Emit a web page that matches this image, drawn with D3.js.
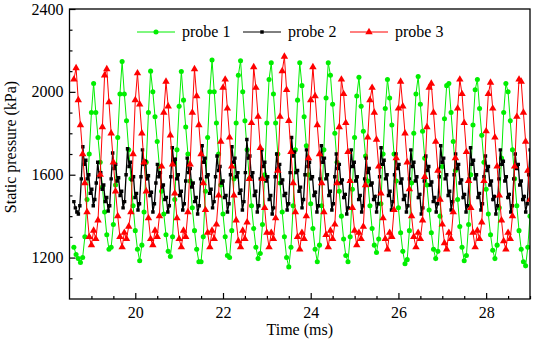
<!DOCTYPE html>
<html>
<head>
<meta charset="utf-8">
<script src="https://cdn.jsdelivr.net/npm/d3@7"></script>
<style>
  body { margin: 0; background: #fff; }
  text { font-family: "Liberation Serif", "Times New Roman", serif; }
</style>
</head>
<body>
<script>
const t0 = 18.6, dt = 0.05;     // probe 1 and probe 3
const tb0 = 18.6, dtb = 0.034;  // probe 2 is sampled denser

const probe1 = [
  1250,1215,1195,1176,1200,1300,1480,1700,1900,2040,
  1900,1780,1660,1540,1420,1310,1240,1250,1360,1550,
  1780,1990,2146,1990,1860,1720,1580,1450,1330,1240,
  1185,1260,1420,1660,1900,2100,2000,1880,1760,1640,
  1520,1410,1310,1230,1205,1300,1480,1720,1930,2098,
  1960,1830,1700,1570,1440,1330,1240,1180,1180,1300,
  1520,1780,2000,2154,2000,1850,1700,1550,1410,1300,
  1210,1200,1330,1580,1850,2080,2150,2000,1860,1720,
  1580,1450,1340,1250,1195,1220,1360,1600,1850,2060,
  2140,1990,1850,1700,1560,1420,1300,1200,1155,1250,
  1450,1720,1960,2140,2030,1880,1740,1600,1460,1340,
  1240,1180,1260,1450,1720,1970,2140,2080,1940,1800,
  1660,1520,1400,1290,1210,1180,1300,1530,1780,1980,
  2070,1930,1810,1690,1570,1450,1340,1260,1224,1290,
  1460,1700,1920,2060,1970,1840,1700,1570,1440,1320,
  1230,1170,1190,1330,1560,1800,1990,2074,1940,1810,
  1680,1550,1430,1320,1240,1195,1230,1400,1640,1870,
  2030,2040,1900,1760,1620,1480,1350,1250,1185,1210,
  1360,1600,1840,2010,2060,1920,1790,1660,1530,1410,
  1310,1235,1195,1260,1440,1680,1900,2040,2000,1860,
  1720,1580,1450,1330,1240,1180,1160,1250,1400
];

const probe2 = [
  1470,1440,1420,1410,1450,1580,
  1735,1650,1670,1580,1600,1510,1530,1450,1480,1560,
  1660,1590,1610,1530,1550,1470,1490,1425,1450,1580,
  1705,1630,1650,1570,1585,1500,1520,1440,1470,1600,
  1725,1640,1660,1575,1590,1490,1510,1430,1460,1590,
  1720,1650,1665,1580,1595,1500,1515,1420,1460,1560,
  1650,1590,1610,1540,1550,1480,1490,1420,1450,1590,
  1730,1660,1675,1580,1600,1500,1520,1430,1460,1570,
  1680,1610,1630,1540,1560,1470,1490,1410,1450,1580,
  1740,1660,1680,1590,1600,1510,1530,1440,1470,1590,
  1690,1620,1640,1560,1570,1490,1500,1420,1460,1600,
  1735,1660,1680,1590,1610,1510,1525,1430,1470,1610,
  1770,1680,1690,1590,1610,1500,1520,1420,1450,1580,
  1720,1640,1660,1570,1590,1480,1500,1410,1440,1590,
  1700,1630,1650,1560,1575,1500,1510,1430,1460,1610,
  1780,1690,1710,1610,1620,1520,1540,1440,1480,1600,
  1720,1640,1660,1580,1590,1500,1515,1420,1450,1580,
  1740,1660,1680,1580,1600,1500,1520,1430,1460,1590,
  1700,1630,1650,1560,1575,1490,1505,1410,1440,1570,
  1720,1640,1660,1570,1590,1480,1500,1420,1450,1580,
  1680,1610,1630,1550,1560,1480,1495,1420,1460,1590,
  1730,1650,1670,1580,1600,1500,1520,1430,1470,1600,
  1700,1630,1650,1560,1580,1480,1500,1420,1450,1580,
  1720,1640,1660,1570,1590,1490,1505,1410,1440,1570,
  1690,1620,1640,1550,1565,1470,1490,1420,1460,1590,
  1740,1660,1680,1580,1600,1500,1520,1430,1470,1600,
  1700,1630,1650,1560,1575,1490,1505,1420,1450,1580,
  1730,1650,1670,1580,1600,1490,1510,1430,1460,1590,
  1690,1620,1640,1550,1570,1480,1495,1410,1450,1580,
  1720,1650,1665,1570,1590,1490,1505,1420,1450,1580,
  1700,1630,1650,1550,1570,1480,1495,1420,1460,1600,
  1720
];

const probe3 = [
  2060,2115,1960,1840,1700,1560,1420,1300,1260,1330,
  1290,1380,1600,1830,2080,2110,1950,1800,1660,1520,
  1400,1300,1250,1320,1290,1350,1420,1700,1960,2090,
  1940,1800,1660,1520,1390,1290,1260,1330,1300,1400,
  1640,1900,2050,1930,1790,1650,1510,1390,1290,1250,
  1330,1300,1420,1650,1900,2110,1980,1840,1700,1560,
  1430,1320,1250,1330,1290,1360,1500,1760,2020,2060,
  1920,1780,1640,1500,1380,1280,1250,1330,1290,1370,
  1580,1850,2120,2020,1880,1730,1580,1440,1320,1250,
  1320,1290,1390,1620,1880,2100,2170,2010,1860,1710,
  1560,1420,1300,1240,1320,1290,1400,1680,1960,2120,
  1980,1840,1700,1560,1420,1310,1250,1330,1290,1360,
  1560,1830,2060,1990,1850,1710,1570,1440,1330,1260,
  1320,1290,1350,1550,1780,1960,2020,1900,1770,1640,
  1510,1390,1290,1240,1320,1300,1430,1680,1920,2050,
  1930,1800,1660,1530,1400,1300,1250,1320,1290,1380,
  1590,1830,2020,2040,1900,1760,1620,1480,1360,1270,
  1240,1320,1290,1420,1680,1920,2060,1990,1850,1710,
  1570,1440,1320,1250,1330,1290,1370,1570,1810,1990,
  2045,1920,1780,1640,1500,1380,1280,1240,1320,1290,
  1400,1640,1880,2060,2050,1900,1760,1620,1480
];

const names = ["probe 1", "probe 2", "probe 3"];
const colors = ["#00ee00", "#000000", "#ff0000"];
const xMajor = [20, 22, 24, 26, 28];
const yMajor = [1200, 1600, 2000, 2400];
const xDomain = [18.5, 29];
const yDomain = [1000, 2400];

const W = 533, H = 343;
const margin = {left: 69.5, top: 9, right: 3, bottom: 44};
const iw = W - margin.left - margin.right, ih = H - margin.top - margin.bottom;

const x = d3.scaleLinear().domain(xDomain).range([0, iw]);
const y = d3.scaleLinear().domain(yDomain).range([ih, 0]);

const series = [
  {name: names[0], color: colors[0], shape: d3.symbolCircle, size: 20, lw: 1,
   pts: probe1.map((v, i) => [t0 + i * dt, v])},
  {name: names[1], color: colors[1], shape: d3.symbolSquare, size: 12, lw: 1.3,
   pts: probe2.map((v, i) => [tb0 + i * dtb, v])},
  {name: names[2], color: colors[2], shape: d3.symbolTriangle, size: 24, lw: 1,
   pts: probe3.map((v, i) => [t0 + i * dt, v])}
];

const svg = d3.select("body").append("svg")
    .attr("width", W).attr("height", H);

const g = svg.append("g")
    .attr("transform", `translate(${margin.left},${margin.top})`);

g.append("clipPath").attr("id", "clip")
  .append("rect").attr("width", iw).attr("height", ih);

const plot = g.append("g").attr("clip-path", "url(#clip)");
const line = d3.line().x(d => x(d[0])).y(d => y(d[1]));

series.forEach(s => {
  const sg = plot.append("g");
  sg.append("path")
      .attr("d", line(s.pts))
      .attr("fill", "none")
      .attr("stroke", s.color)
      .attr("stroke-width", s.lw);
  sg.selectAll("path.m")
    .data(s.pts)
    .join("path")
      .attr("class", "m")
      .attr("transform", d => `translate(${x(d[0])},${y(d[1])})`)
      .attr("d", d3.symbol(s.shape, s.size))
      .attr("fill", s.color);
});

// axes: minor ticks, then labelled major ticks, all pointing inward
const xMinor = d3.range(19, 29.01, 0.5).filter(v => !xMajor.includes(v));
const yMinor = d3.range(1100, 2400, 100).filter(v => !yMajor.includes(v));

g.append("g").attr("transform", `translate(0,${ih})`)
    .call(d3.axisBottom(x).tickValues(xMinor).tickSize(-3).tickFormat(""))
    .call(a => a.select(".domain").remove());
g.append("g").attr("transform", `translate(0,${ih})`)
    .call(d3.axisBottom(x).tickValues(xMajor).tickSize(-6).tickPadding(8).tickFormat(d3.format("d")))
    .call(a => a.select(".domain").remove());
g.append("g")
    .call(d3.axisLeft(y).tickValues(yMinor).tickSize(-3).tickFormat(""))
    .call(a => a.select(".domain").remove());
g.append("g")
    .call(d3.axisLeft(y).tickValues(yMajor).tickSize(-6).tickPadding(6).tickFormat(d3.format("d")))
    .call(a => a.select(".domain").remove());

g.selectAll(".tick line").attr("stroke", "#000").attr("stroke-width", 1.2);
g.selectAll(".tick text")
    .attr("font-family", "'Liberation Serif', 'Times New Roman', serif")
    .attr("font-size", 16).attr("fill", "#000");

g.append("rect")
    .attr("width", iw).attr("height", ih)
    .attr("fill", "none").attr("stroke", "#000").attr("stroke-width", 1.3);

// axis titles
svg.append("text")
    .attr("x", margin.left + iw / 2).attr("y", 335)
    .attr("text-anchor", "middle").attr("font-size", 16)
    .text("Time (ms)");
svg.append("text")
    .attr("transform", "translate(16,147) rotate(-90)")
    .attr("text-anchor", "middle").attr("font-size", 16)
    .text("Static pressure (kPa)");

// legend
const legX = [137, 243, 350];
const leg = svg.append("g").selectAll("g")
  .data(series)
  .join("g")
    .attr("transform", (d, i) => `translate(${legX[i]},32)`);
leg.append("line")
    .attr("x1", 0).attr("x2", 38)
    .attr("stroke", d => d.color).attr("stroke-width", 1);
leg.append("path")
    .attr("transform", "translate(19,0)")
    .attr("d", d => d3.symbol(d.shape, d.size)())
    .attr("fill", d => d.color);
leg.append("text")
    .attr("x", 45).attr("dy", "0.32em")
    .attr("font-size", 16)
    .text(d => d.name);
</script>
</body>
</html>
